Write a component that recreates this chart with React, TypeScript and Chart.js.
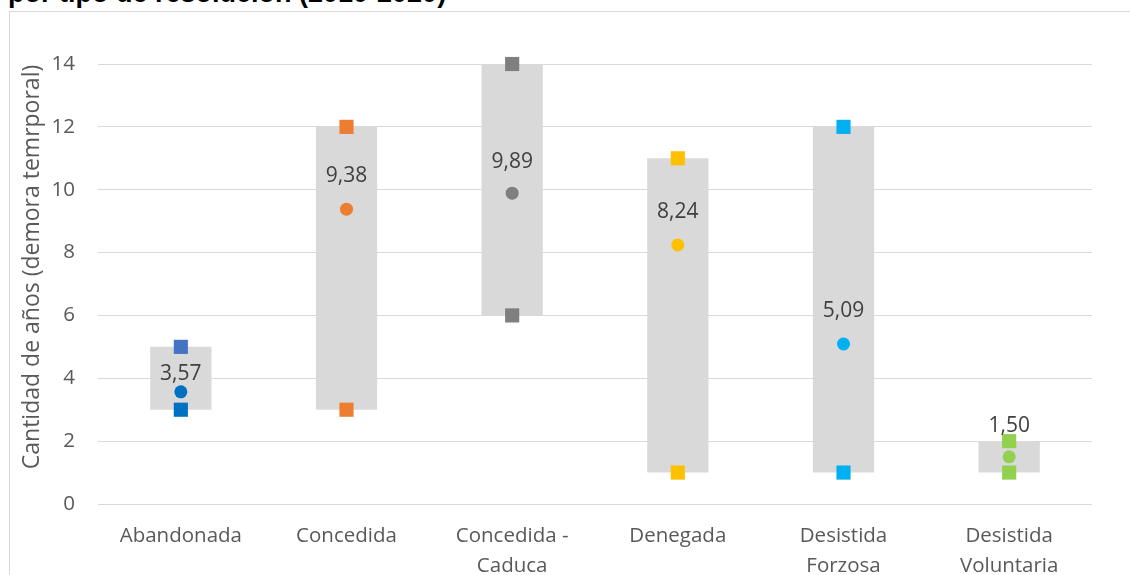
import React, { useEffect, useRef } from 'react';
import { Chart, registerables } from 'chart.js';

Chart.register(...registerables);

const categories: string[][] = [
  ['Abandonada'],
  ['Concedida'],
  ['Concedida -', 'Caduca'],
  ['Denegada'],
  ['Desistida', 'Forzosa'],
  ['Desistida', 'Voluntaria'],
];
const minValues = [3, 3, 6, 1, 1, 1];
const maxValues = [5, 12, 14, 11, 12, 2];
const meanValues = [3.57, 9.38, 9.89, 8.24, 5.09, 1.5];
const maxColors = ['#4472C4', '#ED7D31', '#7F7F7F', '#FFC000', '#00B0F0', '#92D050'];
const minColors = ['#0070C0', '#ED7D31', '#7F7F7F', '#FFC000', '#00B0F0', '#92D050'];
const meanColors = ['#0070C0', '#ED7D31', '#7F7F7F', '#FFC000', '#00B0F0', '#92D050'];
const yMin = 0;
const yMax = 14;
const yStep = 2;
const titleText = 'por tipo de resolución (2010-2020)';
const yAxisTitle = 'Cantidad de años (demora temrporal)';
const labelOffsets = [18, 33, 31, 33, 33, 31];

const FONT = '"Open Sans", "DejaVu Sans", sans-serif';

const meanLabelsPlugin = {
  id: 'meanLabels',
  afterDatasetsDraw(chart: any) {
    const meta = chart.getDatasetMeta(1);
    const ctx = chart.ctx;
    ctx.save();
    ctx.font = `21px ${FONT}`;
    ctx.fillStyle = '#404040';
    ctx.textAlign = 'center';
    ctx.textBaseline = 'middle';
    meta.data.forEach((pt: any, i: number) => {
      const txt = meanValues[i].toFixed(2).replace('.', ',');
      ctx.fillText(txt, pt.x, pt.y - labelOffsets[i]);
    });
    ctx.restore();
  },
};

const yTitlePlugin = {
  id: 'yTitle',
  afterDraw(chart: any) {
    const ctx = chart.ctx;
    ctx.save();
    ctx.font = `23px ${FONT}`;
    ctx.fillStyle = '#595959';
    ctx.textAlign = 'center';
    ctx.textBaseline = 'middle';
    ctx.translate(22, 255);
    ctx.rotate(-Math.PI / 2);
    ctx.fillText(yAxisTitle, 0, 0);
    ctx.restore();
  },
};

export default function App() {
  const canvasRef = useRef<HTMLCanvasElement | null>(null);

  useEffect(() => {
    if (!canvasRef.current) return;
    const pointDefaults = {
      type: 'line',
      showLine: false,
      pointBorderWidth: 0,
      clip: false,
      order: 0,
    };
    const chart = new Chart(canvasRef.current, {
      type: 'bar',
      data: {
        labels: categories,
        datasets: [
          {
            ...pointDefaults,
            label: 'Máximo',
            data: maxValues,
            pointStyle: 'rect',
            pointRadius: 10,
            pointBackgroundColor: maxColors,
            pointBorderColor: maxColors,
          } as any,
          {
            ...pointDefaults,
            label: 'Promedio',
            data: meanValues,
            pointStyle: 'circle',
            pointRadius: 6.5,
            pointBackgroundColor: meanColors,
            pointBorderColor: meanColors,
          } as any,
          {
            ...pointDefaults,
            label: 'Mínimo',
            data: minValues,
            pointStyle: 'rect',
            pointRadius: 10,
            pointBackgroundColor: minColors,
            pointBorderColor: minColors,
          } as any,
          {
            type: 'bar',
            label: 'Rango',
            data: minValues.map((v, i) => [v, maxValues[i]]),
            backgroundColor: '#D9D9D9',
            borderWidth: 0,
            categoryPercentage: 1,
            barPercentage: 0.37,
            order: 1,
          } as any,
        ],
      },
      options: {
        responsive: false,
        animation: false,
        layout: { padding: { top: 52, right: 38, left: 0, bottom: 0 } },
        plugins: {
          legend: { display: false },
          tooltip: { enabled: false },
          title: { display: false },
        },
        scales: {
          x: {
            grid: { display: false },
            border: { display: false },
            ticks: {
              color: '#595959',
              font: { family: FONT, size: 20.5, lineHeight: 1.42 },
              padding: 10,
              maxRotation: 0,
              autoSkip: false,
            },
            afterFit: (scale: any) => {
              scale.height = 71;
            },
          },
          y: {
            min: yMin,
            max: yMax,
            border: { display: false },
            grid: { color: '#D9D9D9', lineWidth: 1, drawTicks: false },
            ticks: {
              stepSize: yStep,
              color: '#595959',
              font: { family: FONT, size: 20.5 },
              padding: 23,
            },
            afterFit: (scale: any) => {
              scale.width = 88;
            },
          },
        },
      } as any,
      plugins: [meanLabelsPlugin, yTitlePlugin],
    });
    return () => chart.destroy();
  }, []);

  return (
    <div
      style={{
        position: 'absolute',
        left: 0,
        top: 0,
        width: 1130,
        height: 575,
        overflow: 'hidden',
        background: '#ffffff',
      }}
    >
      <div
        style={{
          position: 'absolute',
          left: 8,
          top: -20,
          font: 'bold 27px "Liberation Sans", Arial, sans-serif',
          lineHeight: '27px',
          whiteSpace: 'nowrap',
          color: '#000000',
        }}
      >
        {titleText}
      </div>
      <div
        style={{
          position: 'absolute',
          left: 9,
          top: 11,
          width: 1200,
          height: 700,
          borderLeft: '1px solid #D9D9D9',
          borderTop: '1px solid #D9D9D9',
        }}
      >
        <canvas ref={canvasRef} width={1120} height={563} style={{ display: 'block' }} />
      </div>
    </div>
  );
}
